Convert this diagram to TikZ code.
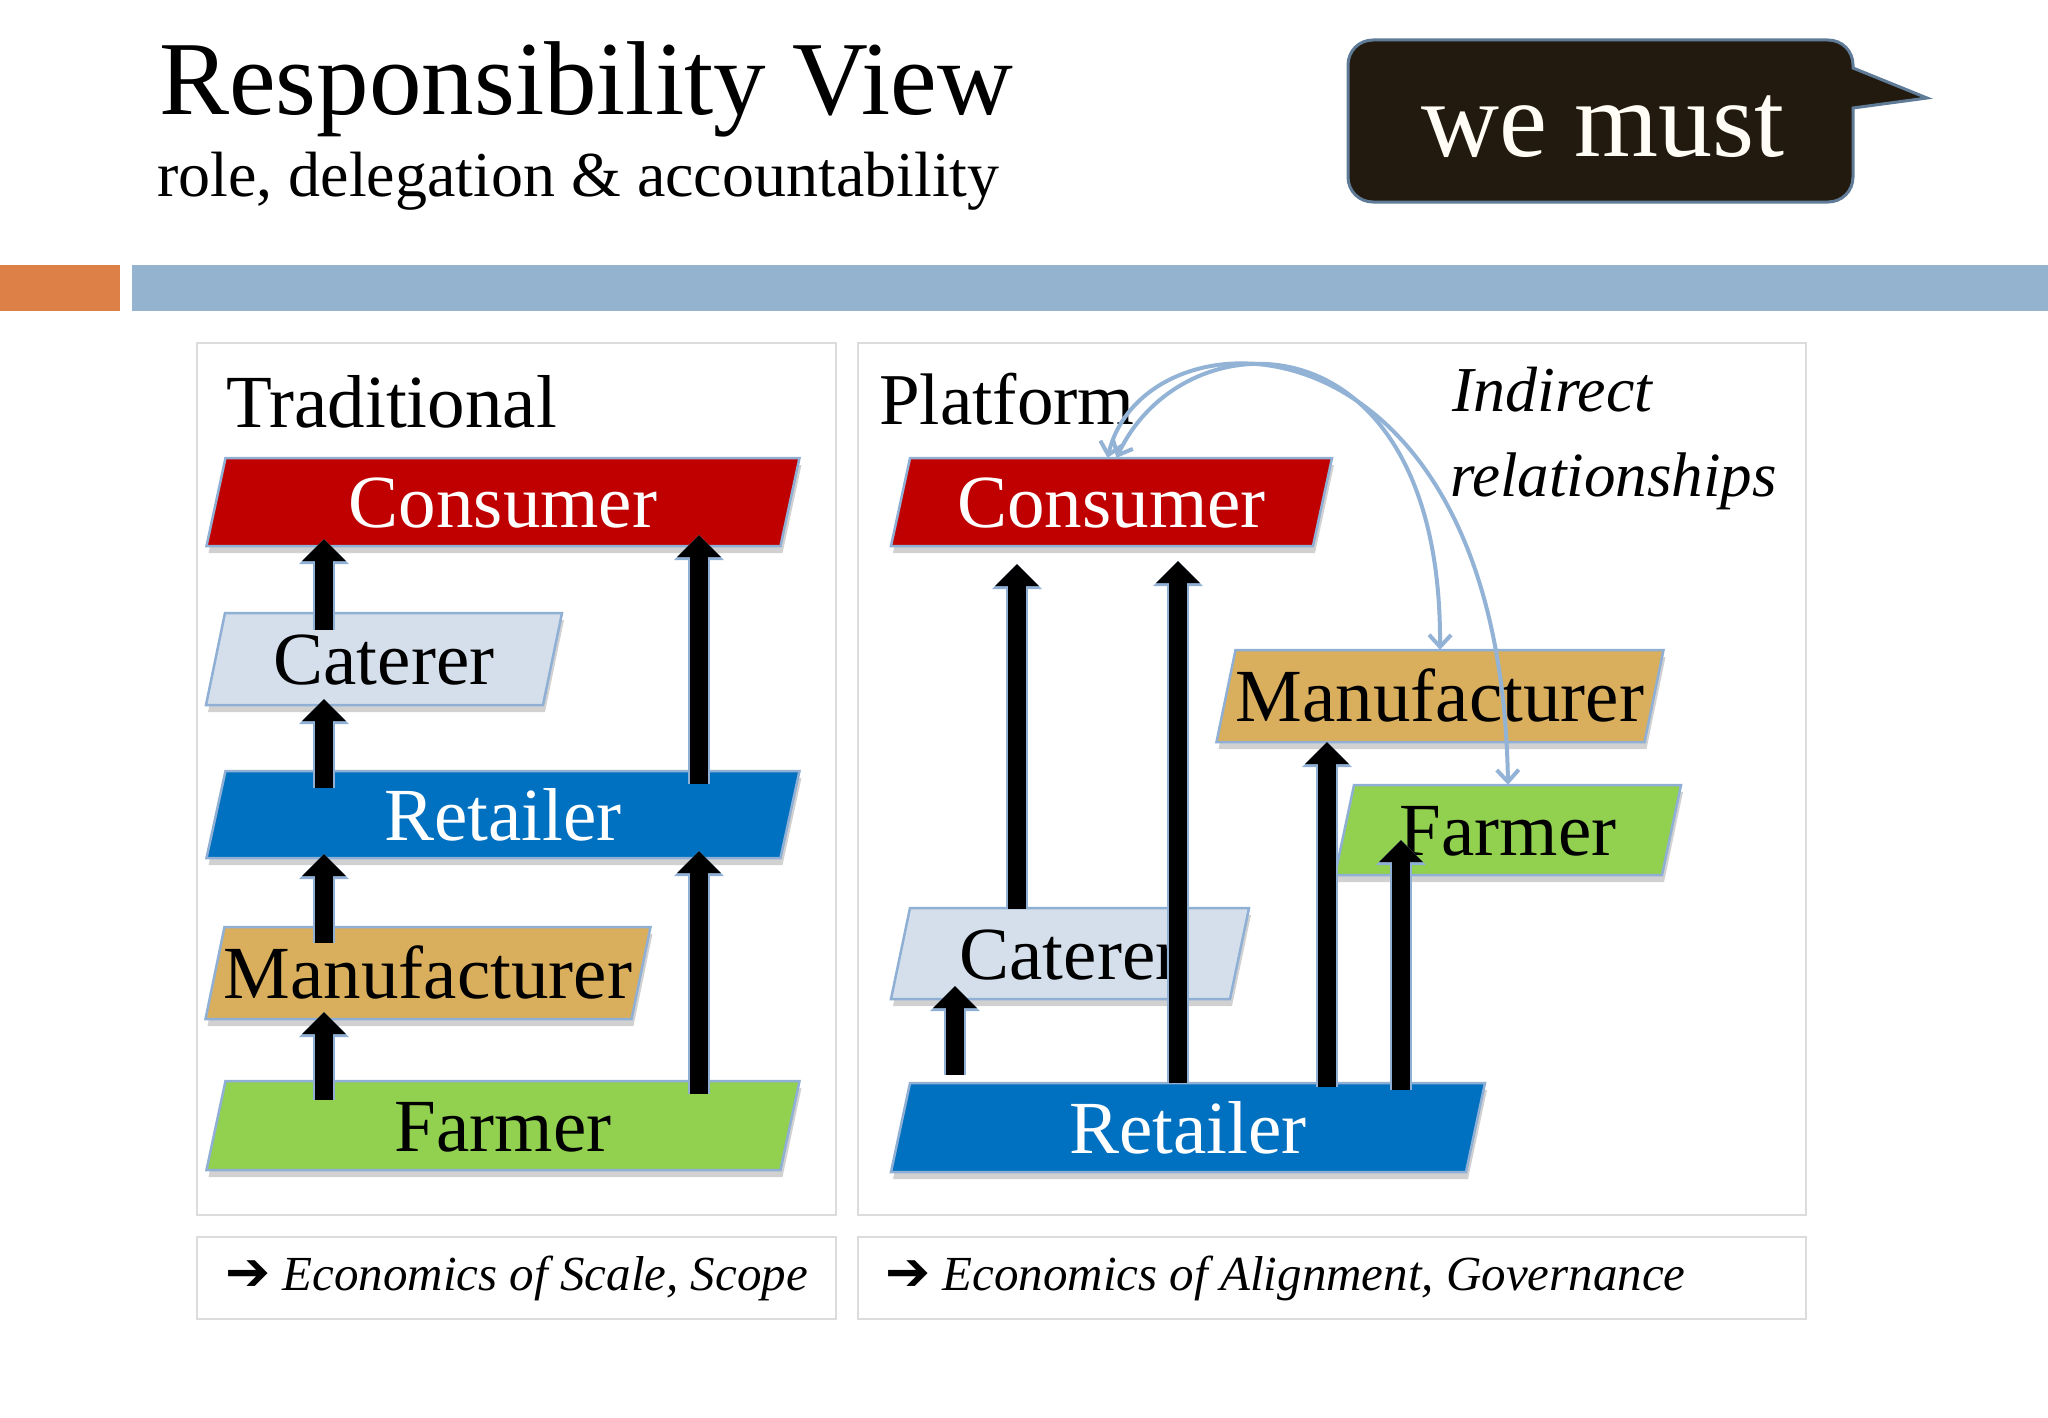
\documentclass[tikz,border=0pt]{standalone}
\usepackage{fontspec}
\setmainfont{Liberation Serif}
\newfontfamily\arrfont{DejaVu Sans}
\usetikzlibrary{arrows.meta,calc}

\definecolor{cred}{HTML}{C00000}
\definecolor{ccat}{HTML}{D5DFEB}
\definecolor{cblue}{HTML}{0070C0}
\definecolor{cman}{HTML}{D9AF5E}
\definecolor{cgreen}{HTML}{92D050}
\definecolor{outl}{HTML}{8FB0D4}
\definecolor{barorange}{HTML}{DD8047}
\definecolor{barblue}{HTML}{94B3CF}
\definecolor{bubfill}{HTML}{221A0E}
\definecolor{bubline}{HTML}{5F7B97}
\definecolor{panelline}{HTML}{DCDCDC}
\definecolor{curvecol}{HTML}{93B3D6}
\definecolor{cream}{HTML}{FFFDF5}

\newcommand\fs[1]{\fontsize{#1pt}{#1pt}\selectfont}

\tikzset{
  boxlabel/.style={inner sep=0pt, text height=51pt, text depth=0pt, font=\fs{75}},
  blockarr/.style={line width=18pt, draw=black,
    -{Triangle[width=44pt,length=22pt,line width=0pt]},
    preaction={draw=outl, line width=22pt, -{Triangle[width=50pt,length=25pt,line width=0pt]}}},
  panel/.style={draw=panelline, line width=2pt},
  relcurve/.style={draw=curvecol, line width=4pt,
    {Straight Barb[length=12pt,width=22pt]}-{Straight Barb[length=12pt,width=22pt]}},
  plain/.style={anchor=base west, inner sep=0pt},
}

% name, cx, cy, w, h, fill, textcolor, text
\newcommand\pbox[8]{%
  \fill[black, opacity=0.18] ({#2-#4/2-9.5+2},{#3+#5/2+7}) -- ({#2+#4/2-9.5+2},{#3+#5/2+7}) -- ({#2+#4/2+9.5+2},{#3-#5/2+7}) -- ({#2-#4/2+9.5+2},{#3-#5/2+7}) -- cycle;
  \draw[outl, line width=2.5pt, fill=#6] ({#2-#4/2-9.5},{#3+#5/2}) -- ({#2+#4/2-9.5},{#3+#5/2}) -- ({#2+#4/2+9.5},{#3-#5/2}) -- ({#2-#4/2+9.5},{#3-#5/2}) -- cycle;
  \node[boxlabel, text=#7, minimum width=#4pt, minimum height=#5pt] (#1) at (#2,#3) {#8};
}

\begin{document}
\begin{tikzpicture}[x=1pt,y=-1pt]
\useasboundingbox (0,0) rectangle (2048,1418);
\fill[white] (0,0) rectangle (2048,1418);

% bars
\fill[barorange] (0,265) rectangle (120,311);
\fill[barblue] (132,265) rectangle (2048,311);

% title
\node[plain, font=\fs{105}] (title) at (159,115) {Responsibility View};
\node[plain, font=\fs{64}] (subtitle) at (157,196) {role, delegation \& accountability};

% speech bubble
\path[draw=bubline, fill=bubfill, line width=3pt]
  (1373,40) -- (1828,40) .. controls (1842,40) and (1853,51) .. (1853,65)
  -- (1853,68) -- (1927,98) -- (1853,108)
  -- (1853,177) .. controls (1853,191) and (1842,202) .. (1828,202)
  -- (1373,202) .. controls (1359,202) and (1348,191) .. (1348,177)
  -- (1348,65) .. controls (1348,51) and (1359,40) .. (1373,40) -- cycle;
\node[anchor=base, inner sep=0pt, font=\fs{108}, text=cream] (wemust) at (1603,157) {we must};

% panels
\draw[panel] (197,343) rectangle (836,1215);
\draw[panel] (197,1237) rectangle (836,1319);
\draw[panel] (858,343) rectangle (1806,1215);
\draw[panel] (858,1237) rectangle (1806,1319);

\node[plain, font=\fs{75}] (trad) at (226,427) {Traditional};
\node[plain, font=\fs{73}] (plat) at (879,424) {Platform};

\node[plain, font=\fs{49}] (capL) at (225,1290) {{\fs{54}\arrfont\bfseries ➔} \textit{Economics of Scale, Scope}};
\node[plain, font=\fs{49}] (capR) at (885,1290) {{\fs{54}\arrfont\bfseries ➔} \textit{Economics of Alignment, Governance}};

% left boxes
\pbox{lcon}{503}{502}{574}{88}{cred}{white}{Consumer}
\pbox{lcat}{384}{659}{337}{92}{ccat}{black}{Caterer}
\pbox{lret}{503}{814.5}{574}{87}{cblue}{white}{Retailer}
\pbox{lman}{428}{973}{426}{92}{cman}{black}{Manufacturer}
\pbox{lfar}{503}{1125.5}{574}{89}{cgreen}{black}{Farmer}

\coordinate (cL1) at (324,0);
\coordinate (cL2) at (699,0);

\draw[blockarr, shorten <=-17pt, shorten >=-7pt] (lcat.north -| cL1) -- (lcon.south -| cL1);
\draw[blockarr, shorten <=-17pt, shorten >=-6pt] (lret.north -| cL1) -- (lcat.south -| cL1);
\draw[blockarr, shorten <=-13pt, shorten >=-11pt] (lret.north -| cL2) -- (lcon.south -| cL2);
\draw[blockarr, shorten <=-16pt, shorten >=-4pt] (lman.north -| cL1) -- (lret.south -| cL1);
\draw[blockarr, shorten <=-19pt, shorten >=-7pt] (lfar.north -| cL1) -- (lman.south -| cL1);
\draw[blockarr, shorten <=-13pt, shorten >=-7pt] (lfar.north -| cL2) -- (lret.south -| cL2);

% right boxes
\pbox{rcon}{1111.5}{502}{422}{88}{cred}{white}{Consumer}
\pbox{rman}{1440}{696}{428}{92}{cman}{black}{Manufacturer}
\pbox{rfar}{1508}{830}{327}{90}{cgreen}{black}{Farmer}
\pbox{rcat}{1070}{953.5}{339}{91}{ccat}{black}{Caterer}
\pbox{rret}{1188}{1127.5}{575}{89}{cblue}{white}{Retailer}

\coordinate (cR1) at (1017,0);
\coordinate (cR2) at (1178,0);
\coordinate (cR3) at (1327,0);
\coordinate (cR4) at (1401,0);
\coordinate (cR5) at (955,0);

\draw[blockarr, shorten <=-1pt, shorten >=18pt] (rcat.north -| cR1) -- (rcon.south -| cR1);
\draw[blockarr, shorten <=0pt, shorten >=15pt] (rret.north -| cR2) -- (rcon.south -| cR2);
\draw[blockarr, shorten <=-4pt, shorten >=0pt] (rret.north -| cR3) -- (rman.south -| cR3);
\draw[blockarr, shorten <=-7pt, shorten >=-35pt] (rret.north -| cR4) -- (rfar.south -| cR4);
\draw[blockarr, shorten <=8pt, shorten >=-13pt] (rret.north -| cR5) -- (rcat.south -| cR5);

% indirect relationships
\draw[relcurve] ([xshift=5pt]rcon.north) .. controls (1185,312) and (1442,312) .. (rman.north);
\draw[relcurve] ([xshift=-4pt]rcon.north) .. controls (1145,302) and (1500,300) .. (rfar.north);

\node[plain, font=\fs{64}\itshape] (ind1) at (1452,411) {Indirect};
\node[plain, font=\fs{63}\itshape] (ind2) at (1450,496) {relationships};
\end{tikzpicture}
\end{document}
